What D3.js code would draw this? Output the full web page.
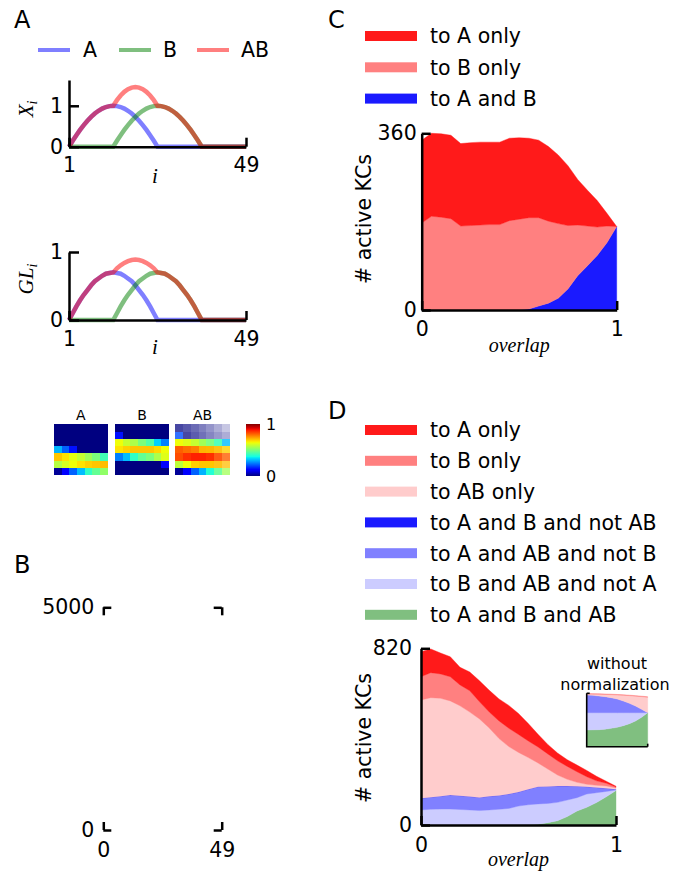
<!DOCTYPE html>
<html><head><meta charset="utf-8">
<script src="https://cdn.jsdelivr.net/npm/d3@7"></script>
<style>
body{margin:0;background:#fff}
svg{display:block}
text{font-family:"DejaVu Sans",sans-serif;fill:#000}
</style>
</head><body>
<svg id="fig" width="673" height="877"></svg>
<script>
// ================= DATA =================
// Panel A : input curves over glomerulus index i = 1..49
const idx = d3.range(1, 50);
const xA  = [0,0.145,0.282,0.41,0.528,0.635,0.729,0.81,0.877,0.931,0.969,0.992,1,0.992,0.969,0.931,0.877,0.81,0.729,0.635,0.528,0.41,0.282,0.145,0,
             0,0,0,0,0,0,0,0,0,0,0,0,0,0,0,0,0,0,0,0,0,0,0,0];
const xB  = [0,0,0,0,0,0,0,0,0,0,0,0,0,
             0.145,0.282,0.41,0.528,0.635,0.729,0.81,0.877,0.931,0.969,0.992,1,0.992,0.969,0.931,0.877,0.81,0.729,0.635,0.528,0.41,0.282,0.145,0,
             0,0,0,0,0,0,0,0,0,0,0,0];
const xAB = [0,0.145,0.282,0.41,0.528,0.635,0.729,0.81,0.877,0.931,0.969,0.992,
             1,1.137,1.251,1.341,1.405,1.445,1.458,1.445,1.405,1.341,1.251,1.137,1,
             0.992,0.969,0.931,0.877,0.81,0.729,0.635,0.528,0.41,0.282,0.145,0,
             0,0,0,0,0,0,0,0,0,0,0,0];
const glA  = [0,0.10,0.20,0.29,0.37,0.44,0.51,0.57,0.61,0.65,0.68,0.69,0.70,0.69,0.68,0.65,0.61,0.57,0.51,0.44,0.37,0.29,0.20,0.10,0,
              0,0,0,0,0,0,0,0,0,0,0,0,0,0,0,0,0,0,0,0,0,0,0,0];
const glB  = [0,0,0,0,0,0,0,0,0,0,0,0,0,
              0.10,0.20,0.29,0.37,0.44,0.51,0.57,0.61,0.65,0.68,0.69,0.70,0.69,0.68,0.65,0.61,0.57,0.51,0.44,0.37,0.29,0.20,0.10,0,
              0,0,0,0,0,0,0,0,0,0,0,0];
const glAB = [0,0.10,0.20,0.29,0.37,0.44,0.51,0.57,0.61,0.65,0.68,0.69,
              0.70,0.76,0.805,0.84,0.866,0.882,0.888,0.882,0.866,0.84,0.805,0.76,0.70,
              0.69,0.68,0.65,0.61,0.57,0.51,0.44,0.37,0.29,0.20,0.10,0,
              0,0,0,0,0,0,0,0,0,0,0,0];
const inputNames = ["A", "B", "AB"];

// Panel A heatmaps (7 x 7, rows top -> bottom)
const heatA = [
  [0,0,0,0,0,0,0],
  [0,0,0,0,0,0,0],
  [0,0,0,0,0,0,0],
  [0.30,0.22,0.14,0,0,0,0],
  [0.70,0.67,0.63,0.59,0.545,0.50,0.43],
  [0.57,0.61,0.64,0.67,0.69,0.70,0.71],
  [0.02,0.12,0.22,0.31,0.41,0.47,0.525]];
const heatB = [
  [0,0,0,0,0,0,0],
  [0.14,0,0,0,0,0,0],
  [0.64,0.59,0.56,0.50,0.45,0.33,0.25],
  [0.67,0.69,0.70,0.70,0.70,0.68,0.64],
  [0.25,0.31,0.41,0.47,0.50,0.56,0.62],
  [0,0,0,0,0,0,0.12],
  [0,0,0,0,0,0,0]];
const heatAB = [
  [0,0,0,0,0,0,0],
  [0.2,0,0,0,0,0,0],
  [0.64,0.62,0.59,0.545,0.50,0.43,0.31],
  [0.81,0.79,0.775,0.72,0.716,0.71,0.69],
  [0.83,0.86,0.876,0.876,0.86,0.83,0.81],
  [0.58,0.64,0.69,0.70,0.70,0.71,0.71],
  [0.02,0.12,0.22,0.30,0.39,0.467,0.545]];
const heatABAlpha = [
  [0.72,0.65,0.58,0.50,0.42,0.32,0.22],
  [0.80,0.72,0.64,0.56,0.48,0.40,0.32],
  [1,1,1,1,0.95,0.9,0.8],
  [1,1,1,1,1,0.92,0.8],
  [1,1,1,1,1,0.92,0.8],
  [1,1,1,1,1,0.9,0.75],
  [1,1,1,1,1,0.9,0.75]];

// Panel C
const overlapC = [0,0.05,0.1,0.15,0.2,0.25,0.3,0.35,0.4,0.45,0.5,0.55,0.6,0.65,0.7,0.75,0.8,0.85,0.9,0.95,1];
const cAonly = [169,169,170,170,168,169,169,168,168,168,166,162,158,152,140,122,93,73,54,26,0];
const cBonly = [177,191,189,186,171,172,173,174,174,182,185,186,180,167,152,129,103,81,58,34,0];
const cAandB = [0,0,0,0,0,0,0,0,0,0,0,2,8,14,24,43,70,90,111,137,170];
const labelsC = ["to A only", "to B only", "to A and B"];

// Panel D
const overlapD = [0,0.05,0.1,0.15,0.2,0.25,0.3,0.35,0.4,0.45,0.5,0.55,0.6,0.65,0.7,0.75,0.8,0.85,0.9,0.95,1];
const dAonly      = [116,110,97,93,82,87,97,101,102,106,97,81,59,44,36,31,31,29,21,9,4];
const dBonly      = [108,116,113,112,97,99,80,74,82,85,83,77,74,70,66,60,49,35,21,13,4];
const dABonly     = [456,462,454,437,417,392,364,317,264,220,184,147,110,81,51,31,18,11,10,11,6];
const dAandBnotAB = [0,0,0,0,0,0,0,0,0,0,0,0,0,0,0,0,0,0,0,0,0];
const dAandABnotB = [54,56,60,65,64,62,61,63,64,67,65,72,80,79,76,65,53,34,24,14,4];
const dBandABnotA = [70,73,74,74,72,70,67,70,73,77,88,94,94,89,85,77,62,62,46,25,2];
const dAll        = [0,0,0,0,0,0,0,0,0,0,0,0,4,11,20,39,65,82,104,131,160];
const labelsD = ["to A only","to B only","to AB only","to A and B and not AB",
                 "to A and AB and not B","to B and AB and not A","to A and B and AB"];

// Panel D inset (without normalization)
const overlapI = [0,0.1,0.2,0.3,0.4,0.5,0.6,0.7,0.8,0.9,1];
const iBonly      = [1.5,1.5,1.5,1.5,1.5,1.5,1.5,1.5,1.5,1.5,1.5];
const iABonly     = [3,3.5,5,6.5,9,12,17,23,29.5,38,46];
const iAandABnotB = [53,52,50,48,45,41,35,28,20,10,0];
const iBandABnotA = [52,51.5,51,49.5,47,44,39,33,25,14,0];
const iAll        = [50,50.5,51,52.5,55,58,63,69,77,88,102];

// ================= STYLE =================
const FS = 20.5;
const serif = '"Liberation Serif","DejaVu Serif",serif';
const colA = '#0000ff', colB = '#008000', colAB = '#ff0000';
const stackColors = {
  aOnly:'#ff1a1a', bOnly:'#ff8080', abOnly:'#ffcccc',
  aAndBnotAB:'#1a1aff', aAndABnotB:'#8080ff', bAndABnotA:'#ccccff', all:'#80bf80'
};

const svg = d3.select('#fig');

function styleAxis(g) {
  g.attr('font-size', FS).attr('font-family', '"DejaVu Sans",sans-serif');
  g.selectAll('.domain').attr('stroke', '#000').attr('stroke-width', 2.5);
  g.selectAll('.tick line').attr('stroke', '#000').attr('stroke-width', 2.5);
  g.selectAll('.tick text').attr('fill', '#000');
}
function panelLetter(t, x, y) {
  svg.append('text').attr('x', x).attr('y', y).attr('font-size', 24).text(t);
}

// ================= PANEL A =================
panelLetter('A', 14, 28);

// legend
const legA = [[colA, 38, 83], [colB, 119, 163], [colAB, 197, 241]];
inputNames.forEach((n, k) => {
  const [c, x0, tx] = legA[k];
  svg.append('line').attr('x1', x0).attr('x2', x0 + 32).attr('y1', 50).attr('y2', 50)
    .attr('stroke', c).attr('stroke-opacity', 0.5).attr('stroke-width', 4);
  svg.append('text').attr('x', tx).attr('y', 57).attr('font-size', FS).text(n);
});

function curvePlot(ys, yMax, yTop, yBot, labelMain, xLabelBase, yLabelCenter) {
  const x = d3.scaleLinear().domain([1, 49]).range([69, 246]);
  const y = d3.scaleLinear().domain([0, yMax]).range([yBot, yTop]);
  const line = d3.line().x((d, k) => x(idx[k])).y(d => y(d));
  [[ys[0], colA], [ys[1], colB], [ys[2], colAB]].forEach(([d, c]) => {
    svg.append('path').datum(d).attr('d', line).attr('fill', 'none')
      .attr('stroke', c).attr('stroke-opacity', 0.5).attr('stroke-width', 4.5);
  });
  const gx = svg.append('g').attr('transform', `translate(0,${yBot})`)
    .call(d3.axisBottom(x).tickValues([1, 49]).tickSizeInner(-9).tickSizeOuter(0).tickPadding(11).tickFormat(d3.format('d')));
  styleAxis(gx);
  const gy = svg.append('g').attr('transform', 'translate(69,0)')
    .call(d3.axisLeft(y).tickValues([0, 1]).tickSizeInner(-10).tickSizeOuter(0).tickPadding(6).tickFormat(d3.format('d')));
  styleAxis(gy);
  svg.append('text').attr('x', 155).attr('y', xLabelBase).attr('text-anchor', 'middle')
    .style('font-family', serif).style('font-style', 'italic').attr('font-size', 21).text('i');
  const t = svg.append('text').attr('transform', `translate(33,${yLabelCenter}) rotate(-90)`)
    .attr('text-anchor', 'middle').style('font-family', serif).style('font-style', 'italic').attr('font-size', 21);
  t.append('tspan').text(labelMain);
  t.append('tspan').attr('dy', 4).attr('font-size', 14).text('i');
}
curvePlot([xA, xB, xAB], 1.63, 80, 146.7, 'X', 183, 109);
curvePlot([glA, glB, glAB], 1, 252, 320, 'GL', 354, 279);

// heatmaps
const jetR = d3.scaleLinear().domain([0, 0.35, 0.66, 0.89, 1]).range([0, 0, 1, 1, 0.5]).clamp(true);
const jetG = d3.scaleLinear().domain([0, 0.125, 0.375, 0.64, 0.91, 1]).range([0, 0, 1, 1, 0, 0]).clamp(true);
const jetB = d3.scaleLinear().domain([0, 0.11, 0.34, 0.65, 1]).range([0.5, 1, 1, 0, 0]).clamp(true);
const jet = v => d3.rgb(jetR(v) * 255, jetG(v) * 255, jetB(v) * 255).formatHex();

function heatmap(mat, alpha, x0, x1, y0, y1, title) {
  const cols = d3.range(7), rows = d3.range(7);
  const xs = d3.scaleBand().domain(cols).range([x0, x1]);
  const ys = d3.scaleBand().domain(rows).range([y0, y1]);
  const g = svg.append('g').attr('shape-rendering', 'crispEdges');
  mat.forEach((row, r) => row.forEach((v, c) => {
    const xa = Math.round(xs(c)), xb = Math.round(xs(c) + xs.bandwidth());
    const ya = Math.round(ys(r)), yb = Math.round(ys(r) + ys.bandwidth());
    g.append('rect').attr('x', xa).attr('y', ya)
      .attr('width', xb - xa).attr('height', yb - ya)
      .attr('fill', jet(v)).attr('fill-opacity', alpha ? alpha[r][c] : 1);
  }));
  svg.append('text').attr('x', (x0 + x1) / 2).attr('y', 420).attr('text-anchor', 'middle')
    .attr('font-size', 14).text(title);
}
heatmap(heatA, null, 54, 107.5, 424.3, 475, 'A');
heatmap(heatB, null, 115, 169, 424.3, 475, 'B');
heatmap(heatAB, heatABAlpha, 175, 230, 424.3, 475, 'AB');

// colorbar
const defs = svg.append('defs');
const grad = defs.append('linearGradient').attr('id', 'jetgrad').attr('x1', 0).attr('x2', 0).attr('y1', 1).attr('y2', 0);
d3.range(0, 1.0001, 0.025).forEach(t => grad.append('stop').attr('offset', t).attr('stop-color', jet(t)));
const cbScale = d3.scaleLinear().domain([0, 1]).range([476, 424]);
svg.append('rect').attr('x', 246).attr('y', cbScale(1)).attr('width', 14).attr('height', cbScale(0) - cbScale(1))
  .attr('fill', 'url(#jetgrad)');
[0, 1].forEach(v => svg.append('text').attr('x', 266).attr('y', cbScale(v)).attr('dy', '0.36em')
  .attr('font-size', 16).text(v));

// ================= PANEL B =================
panelLetter('B', 14, 573);
{
  const x = d3.scaleLinear().domain([0, 49]).range([103.3, 221.7]);
  const y = d3.scaleLinear().domain([0, 5000]).range([830, 607.3]);
  const mk = (axis, tr, showText) => {
    const g = svg.append('g').attr('transform', tr).call(axis);
    styleAxis(g);
    g.select('.domain').remove();
    if (!showText) g.selectAll('.tick text').remove();
  };
  const fmt = d3.format('d');
  mk(d3.axisLeft(y).tickValues([0, 5000]).tickSizeInner(-8).tickSizeOuter(0).tickPadding(9).tickFormat(fmt), `translate(${x(0)},0)`, true);
  mk(d3.axisRight(y).tickValues([0, 5000]).tickSizeInner(-8).tickSizeOuter(0).tickFormat(fmt), `translate(${x(49)},0)`, false);
  mk(d3.axisBottom(x).tickValues([0, 49]).tickSizeInner(-8).tickSizeOuter(0).tickPadding(12).tickFormat(fmt), `translate(0,${y(0)})`, true);
  mk(d3.axisTop(x).tickValues([0, 49]).tickSizeInner(-8).tickSizeOuter(0).tickFormat(fmt), `translate(0,${y(5000)})`, false);
}

// ================= helpers for stacked panels =================
function legend(labels, colors, y0, dy) {
  labels.forEach((l, k) => {
    const cy = y0 + k * dy;
    svg.append('rect').attr('x', 365).attr('y', cy - 5).attr('width', 52).attr('height', 10).attr('fill', colors[k]);
    svg.append('text').attr('x', 430).attr('y', cy).attr('dy', '0.36em').attr('font-size', FS).text(l);
  });
}
function stacked(xs, layers, colors, x, y) {
  const table = xs.map((v, k) => {
    const o = {x: v};
    layers.forEach((L, j) => o['s' + j] = L[k]);
    return o;
  });
  const keys = layers.map((L, j) => 's' + j);
  const series = d3.stack().keys(keys)(table);
  const area = d3.area().x(d => x(d.data.x)).y0(d => y(d[0])).y1(d => y(d[1]));
  series.forEach((s, j) => {
    svg.append('path').datum(s).attr('d', area).attr('fill', colors[j])
      .attr('stroke', colors[j]).attr('stroke-width', 0.4);
  });
}
function axesXY(x, y, yMax, yPad, xPad, yLabelCenter, overlapBase) {
  const gx = svg.append('g').attr('transform', `translate(0,${y(0)})`)
    .call(d3.axisBottom(x).tickValues([0, 1]).tickSizeInner(-9).tickSizeOuter(0).tickPadding(xPad).tickFormat(d3.format('d')));
  styleAxis(gx);
  const gy = svg.append('g').attr('transform', `translate(${x(0)},0)`)
    .call(d3.axisLeft(y).tickValues([0, yMax]).tickSizeInner(-9).tickSizeOuter(0).tickPadding(yPad).tickFormat(d3.format('d')));
  styleAxis(gy);
  svg.append('text').attr('x', (x(0) + x(1)) / 2).attr('y', overlapBase).attr('text-anchor', 'middle')
    .style('font-family', serif).style('font-style', 'italic').attr('font-size', 20).text('overlap');
  svg.append('text').attr('transform', `translate(371,${yLabelCenter}) rotate(-90)`)
    .attr('text-anchor', 'middle').attr('font-size', FS).text('# active KCs');
}

// ================= PANEL C =================
panelLetter('C', 328, 28);
legend(labelsC, [stackColors.aOnly, stackColors.bOnly, stackColors.aAndBnotAB], 36, 31.3);
{
  const x = d3.scaleLinear().domain([0, 1]).range([421.7, 616.7]);
  const y = d3.scaleLinear().domain([0, 360]).range([310, 133.3]).clamp(true);
  stacked(overlapC, [cAandB, cBonly, cAonly],
    [stackColors.aAndBnotAB, stackColors.bOnly, stackColors.aOnly], x, y);
  axesXY(x, y, 360, 5, 11, 219, 352);
}

// ================= PANEL D =================
panelLetter('D', 328, 419);
legend(labelsD, [stackColors.aOnly, stackColors.bOnly, stackColors.abOnly, stackColors.aAndBnotAB,
  stackColors.aAndABnotB, stackColors.bAndABnotA, stackColors.all], 430, 30.8);
{
  const x = d3.scaleLinear().domain([0, 1]).range([421, 616]);
  const y = d3.scaleLinear().domain([0, 820]).range([825, 648.3]).clamp(true);
  stacked(overlapD, [dAll, dBandABnotA, dAandABnotB, dAandBnotAB, dABonly, dBonly, dAonly],
    [stackColors.all, stackColors.bAndABnotA, stackColors.aAndABnotB, stackColors.aAndBnotAB,
     stackColors.abOnly, stackColors.bOnly, stackColors.aOnly], x, y);
  axesXY(x, y, 820, 9, 12, 738, 866);

  // inset
  const xi = d3.scaleLinear().domain([0, 1]).range([586.7, 647.7]);
  const yi = d3.scaleLinear().domain([0, 160]).range([746.7, 693.3]);
  stacked(overlapI, [iAll, iBandABnotA, iAandABnotB, iABonly, iBonly],
    [stackColors.all, stackColors.bAndABnotA, stackColors.aAndABnotB, stackColors.abOnly, stackColors.bOnly], xi, yi);
  svg.append('path').attr('d', `M${xi(0)},${yi(160)}V${yi(0)}H${xi(1)}`)
    .attr('fill', 'none').attr('stroke', '#000').attr('stroke-width', 1.6);
  svg.append('line').attr('x1', xi(1)).attr('x2', xi(1)).attr('y1', yi(0)).attr('y2', yi(0) - 3)
    .attr('stroke', '#000').attr('stroke-width', 1.6);
  svg.append('line').attr('x1', xi(0)).attr('x2', xi(0) + 3).attr('y1', yi(160)).attr('y2', yi(160))
    .attr('stroke', '#000').attr('stroke-width', 1.6);
  svg.append('text').attr('x', 617).attr('y', 663).attr('dy', '0.36em').attr('text-anchor', 'middle')
    .attr('font-size', 16).text('without');
  svg.append('text').attr('x', 615).attr('y', 684).attr('dy', '0.36em').attr('text-anchor', 'middle')
    .attr('font-size', 16).text('normalization');
}
</script>
</body></html>
